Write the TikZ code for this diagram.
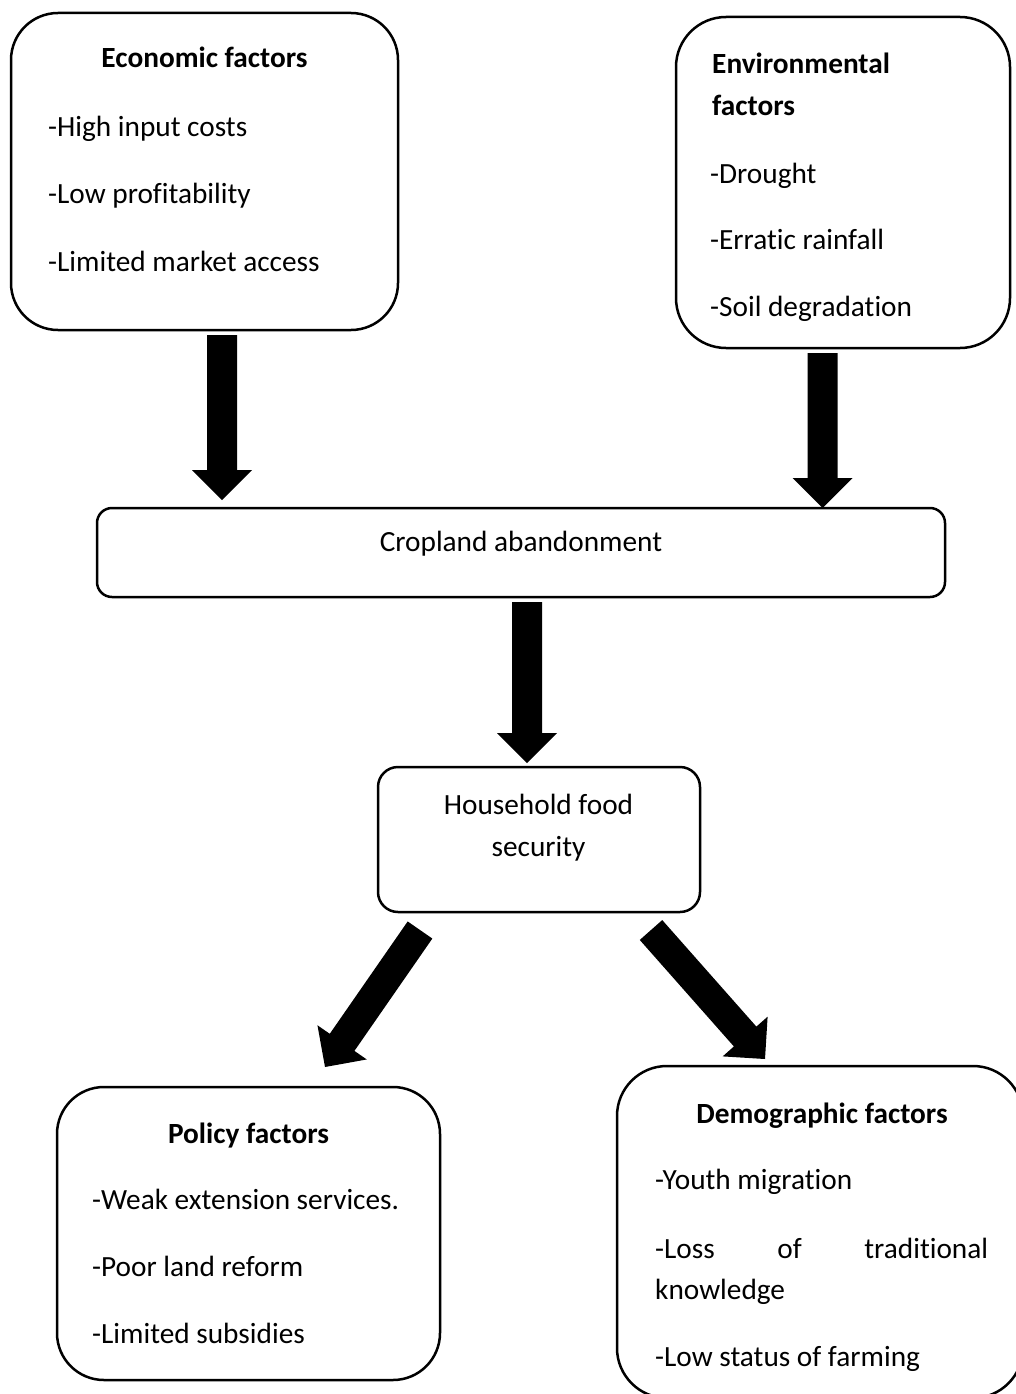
\documentclass[tikz,border=0pt]{standalone}
\usepackage{fontspec}
\setmainfont{Carlito}[Ligatures=NoCommon]
\usetikzlibrary{calc}
\tikzset{
  rbox/.style={draw=black, line width=2.5pt, rounded corners=#1, inner sep=0pt, fill=none},
  txt/.style={anchor=base west, inner sep=0pt, font=\fontsize{29.3}{35}\selectfont},
  ctxt/.style={anchor=base, inner sep=0pt, font=\fontsize{29.3}{35}\selectfont},
  ttl/.style={anchor=base, inner sep=0pt, font=\fontsize{29.3}{35}\selectfont\bfseries},
  ttlw/.style={anchor=base west, inner sep=0pt, font=\fontsize{29.3}{35}\selectfont\bfseries},
  blockfill/.style={fill=black}
}
\newcommand\blockarr[2]{%
  \coordinate (#1h) at ($(#2)!30pt!(#1)$);
  \fill[blockfill] ($(#1)!15pt!90:(#2)$) -- ($(#1h)!15pt!90:(#2)$) -- ($(#1h)!30pt!90:(#2)$)
    -- (#2) -- ($(#1h)!30pt!-90:(#2)$) -- ($(#1h)!15pt!-90:(#2)$) -- ($(#1)!15pt!-90:(#2)$) -- cycle;
}
\begin{document}
\begin{tikzpicture}[x=1pt,y=-1pt]
\useasboundingbox (0,0) rectangle (1016,1394);
\fill[white] (0,0) rectangle (1016,1394);
\clip (0,0) rectangle (1016,1394);

% boxes
\node[rbox=47pt, minimum width=387pt, minimum height=317pt] (econ) at (204.5,171.5) {};
\node[rbox=50pt, minimum width=334pt, minimum height=331pt] (env) at (843,182.5) {};
\node[rbox=15pt, minimum width=848pt, minimum height=89pt] (crop) at (521,552.5) {};
\node[rbox=20pt, minimum width=322pt, minimum height=145pt] (house) at (539,839.5) {};
\node[rbox=47pt, minimum width=383pt, minimum height=293pt] (policy) at (248.5,1233.5) {};
\node[rbox=50pt, minimum width=406pt, minimum height=332pt] (demo) at (820,1232) {};

% texts
\node[ttl] (econT) at (204.5,68) {Economic factors};
\node[txt] (econA) at (48,136) {-High input costs};
\node[txt] (econB) at (48,203) {-Low profitability};
\node[txt] (econC) at (48,271) {-Limited market access};

\node[ttlw] (envT1) at (712,74) {Environmental};
\node[ttlw] (envT2) at (712,116) {factors};
\node[txt] (envA) at (710,183) {-Drought};
\node[txt] (envB) at (710,249) {-Erratic rainfall};
\node[txt] (envC) at (710,316) {-Soil degradation};

\node[ctxt] (cropT) at (521,551) {Cropland abandonment};

\node[ctxt] (houseT1) at (538.5,814) {Household food};
\node[ctxt] (houseT2) at (538.5,856) {security};

\node[ttl] (policyT) at (248.5,1143) {Policy factors};
\node[txt] (policyA) at (92,1209) {-Weak extension services.};
\node[txt] (policyB) at (92,1276) {-Poor land reform};
\node[txt] (policyC) at (92,1343) {-Limited subsidies};

\node[ttl] (demoT) at (822,1123) {Demographic factors};
\node[txt] (demoA) at (655,1189) {-Youth migration};
\node[txt] (demoB) at (655,1258) {\hbox to 333pt{-Loss\hfill of\hfill traditional}};
\node[txt] (demoC) at (655,1299) {knowledge};
\node[txt] (demoD) at (655,1366) {-Low status of farming};

% arrows
\coordinate (a1s) at (222,335);   \coordinate (a1e) at (222,500);
\coordinate (a2s) at (822.5,353); \coordinate (a2e) at (822.5,508);
\coordinate (a3s) at (527,602);   \coordinate (a3e) at (527,763);
\coordinate (a4s) at (420,930);   \coordinate (a4e) at (325,1067);
\coordinate (a5s) at (651,930);   \coordinate (a5e) at (765,1059);
\blockarr{a1s}{a1e}
\blockarr{a2s}{a2e}
\blockarr{a3s}{a3e}
\blockarr{a4s}{a4e}
\blockarr{a5s}{a5e}
\end{tikzpicture}
\end{document}
